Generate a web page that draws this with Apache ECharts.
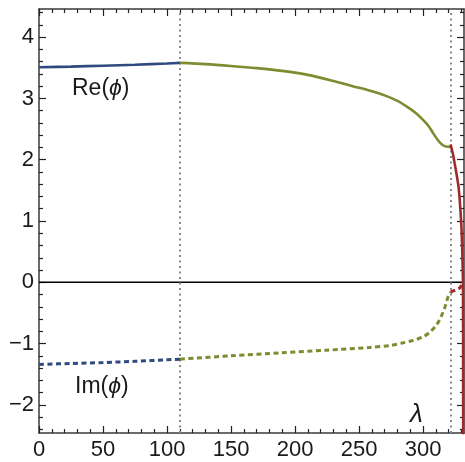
<!DOCTYPE html>
<html>
<head>
<meta charset="utf-8">
<script src="https://cdn.jsdelivr.net/npm/echarts@6/dist/echarts.min.js"></script>
<style>
html,body{margin:0;padding:0;background:#fff;}
#chart{width:465px;height:462px;}
</style>
</head>
<body>
<div id="chart"></div>
<script>
// ---- data ----
const reBlueX = [0, 25, 50, 75, 100, 110.2];
const reBlueY = [3.51, 3.52, 3.535, 3.55, 3.57, 3.58];
const reGreenX = [110.2, 130, 150, 170, 190, 210, 230, 245, 258, 270, 280, 290, 295, 300, 304, 308, 312, 315, 318, 321.5];
const reGreenY = [3.58, 3.56, 3.53, 3.495, 3.45, 3.385, 3.285, 3.2, 3.13, 3.05, 2.96, 2.83, 2.75, 2.65, 2.56, 2.43, 2.31, 2.245, 2.215, 2.21];
const reRedX = [321.5, 322.5, 323.5, 324.7, 325.5, 326.3, 327, 327.8, 328.6, 329.4, 330, 330.4, 330.7, 331, 331.2, 331.3, 331.35];
const reRedY = [2.25, 2.17, 2.08, 1.94, 1.85, 1.75, 1.66, 1.55, 1.36, 1.12, 0.9, 0.68, 0.45, 0.2, 0, -1, -2.6];
const imBlueX = [0, 25, 50, 75, 100, 110.2];
const imBlueY = [-1.34, -1.325, -1.31, -1.29, -1.265, -1.255];
const imGreenX = [110.2, 150, 190, 224, 258, 275, 284, 292, 300, 305, 310, 313, 315.6, 317.5, 319.5, 321.5];
const imGreenY = [-1.255, -1.2, -1.15, -1.11, -1.065, -1.03, -0.99, -0.95, -0.89, -0.82, -0.71, -0.61, -0.49, -0.38, -0.24, -0.16];
const imRedX = [321.5, 325, 329, 331.2];
const imRedY = [-0.16, -0.13, -0.09, 0];
const transitions = [110.2, 321.5];
const xMajorTicks = [0, 50, 100, 150, 200, 250, 300];
const yMajorTicks = [-2, -1, 0, 1, 2, 3, 4];
const xRange = [0, 332];
const yRange = [-2.46, 4.46];

// ---- helpers ----
const zip = (xs, ys) => xs.map((x, i) => [x, ys[i]]);
const xMinor = [];
for (let v = xRange[0]; v <= xRange[1]; v += 10) if (!xMajorTicks.includes(v)) xMinor.push(v);
const yMinor = [];
for (let k = -12; k <= 22; k++) { const v = Math.round(k * 2) / 10; if (v >= yRange[0] && v <= yRange[1] && Math.abs(v - Math.round(v)) > 1e-9) yMinor.push(v); }

const FONT = '"Liberation Sans", Arial, sans-serif';
const AX = '#3a3a3a';
const BLUE = '#2f4a7e', GREEN = '#7e8b30', RED = '#9e2b2c';

function mkAxis(pos, isX, showLine, showLabel, ticks, len) {
  return {
    type: 'value', position: pos,
    min: isX ? xRange[0] : yRange[0], max: isX ? xRange[1] : yRange[1],
    axisLine: { show: showLine, onZero: false, lineStyle: { color: AX, width: 1.5 } },
    axisTick: { show: true, inside: true, length: len, customValues: ticks, lineStyle: { color: '#222', width: 1.2 } },
    axisLabel: {
      show: showLabel, customValues: ticks, fontSize: 22, fontFamily: FONT, color: '#1a1a1a',
      margin: isX ? 6 : 5,
      formatter: v => (v < 0 ? '\u2212' + Math.abs(v) : String(v))
    },
    splitLine: { show: false }, minorTick: { show: false }
  };
}

const xAxes = [
  mkAxis('bottom', true, true, true, xMajorTicks, 7),
  mkAxis('bottom', true, false, false, xMinor, 4),
  mkAxis('top', true, true, false, xMajorTicks, 7),
  mkAxis('top', true, false, false, xMinor, 4)
];
const yAxes = [
  mkAxis('left', false, true, true, yMajorTicks, 7),
  mkAxis('left', false, false, false, yMinor, 4),
  mkAxis('right', false, true, false, yMajorTicks, 7),
  mkAxis('right', false, false, false, yMinor, 4)
];

function line(name, xs, ys, color, dashed, smooth) {
  return {
    name, type: 'line', xAxisIndex: 0, yAxisIndex: 0, data: zip(xs, ys),
    showSymbol: false, symbol: 'none', smooth: smooth, clip: true,
    lineStyle: { color, width: dashed ? 3 : 2.6, type: dashed ? [5, 3.5] : 'solid' },
    z: 5, silent: true
  };
}

const rich = {
  n: { fontSize: 23, fontFamily: FONT, fill: '#1a1a1a' },
  i: { fontSize: 23, fontFamily: FONT, fontStyle: 'italic', fill: '#1a1a1a' }
};

const option = {
  animation: false,
  backgroundColor: '#fff',
  grid: { left: 39, right: 1, top: 9, bottom: 29, containLabel: false },
  xAxis: xAxes,
  yAxis: yAxes,
  series: [
    {
      name: 'zero', type: 'line', data: [[xRange[0], 0], [xRange[1], 0]],
      symbol: 'none', lineStyle: { color: '#000', width: 1.4 }, z: 3, silent: true,
      markLine: {
        silent: true, symbol: 'none', label: { show: false },
        lineStyle: { color: '#8a8a8a', width: 2, type: [2, 3.5] },
        data: transitions.map(v => ({ xAxis: v }))
      }
    },
    line('Re blue', reBlueX, reBlueY, BLUE, false, 0.3),
    line('Re green', reGreenX, reGreenY, GREEN, false, 0.3),
    line('Re red', reRedX, reRedY, RED, false, false),
    line('Im blue', imBlueX, imBlueY, BLUE, true, 0.3),
    line('Im green', imGreenX, imGreenY, GREEN, true, 0.3),
    line('Im red', imRedX, imRedY, RED, true, false)
  ],
  graphic: [
    { type: 'text', left: 72, top: 77, style: { text: '{n|Re(}{i|ϕ}{n|)}', rich } },
    { type: 'text', left: 75, top: 375, style: { text: '{n|Im(}{i|ϕ}{n|)}', rich } },
    { type: 'text', left: 410, top: 402, style: { text: 'λ', fontSize: 26, fontFamily: FONT, fontStyle: 'italic', fill: '#1a1a1a' } }
  ]
};

const chart = echarts.init(document.getElementById('chart'), null, { renderer: 'canvas' });
chart.setOption(option);
</script>
</body>
</html>
